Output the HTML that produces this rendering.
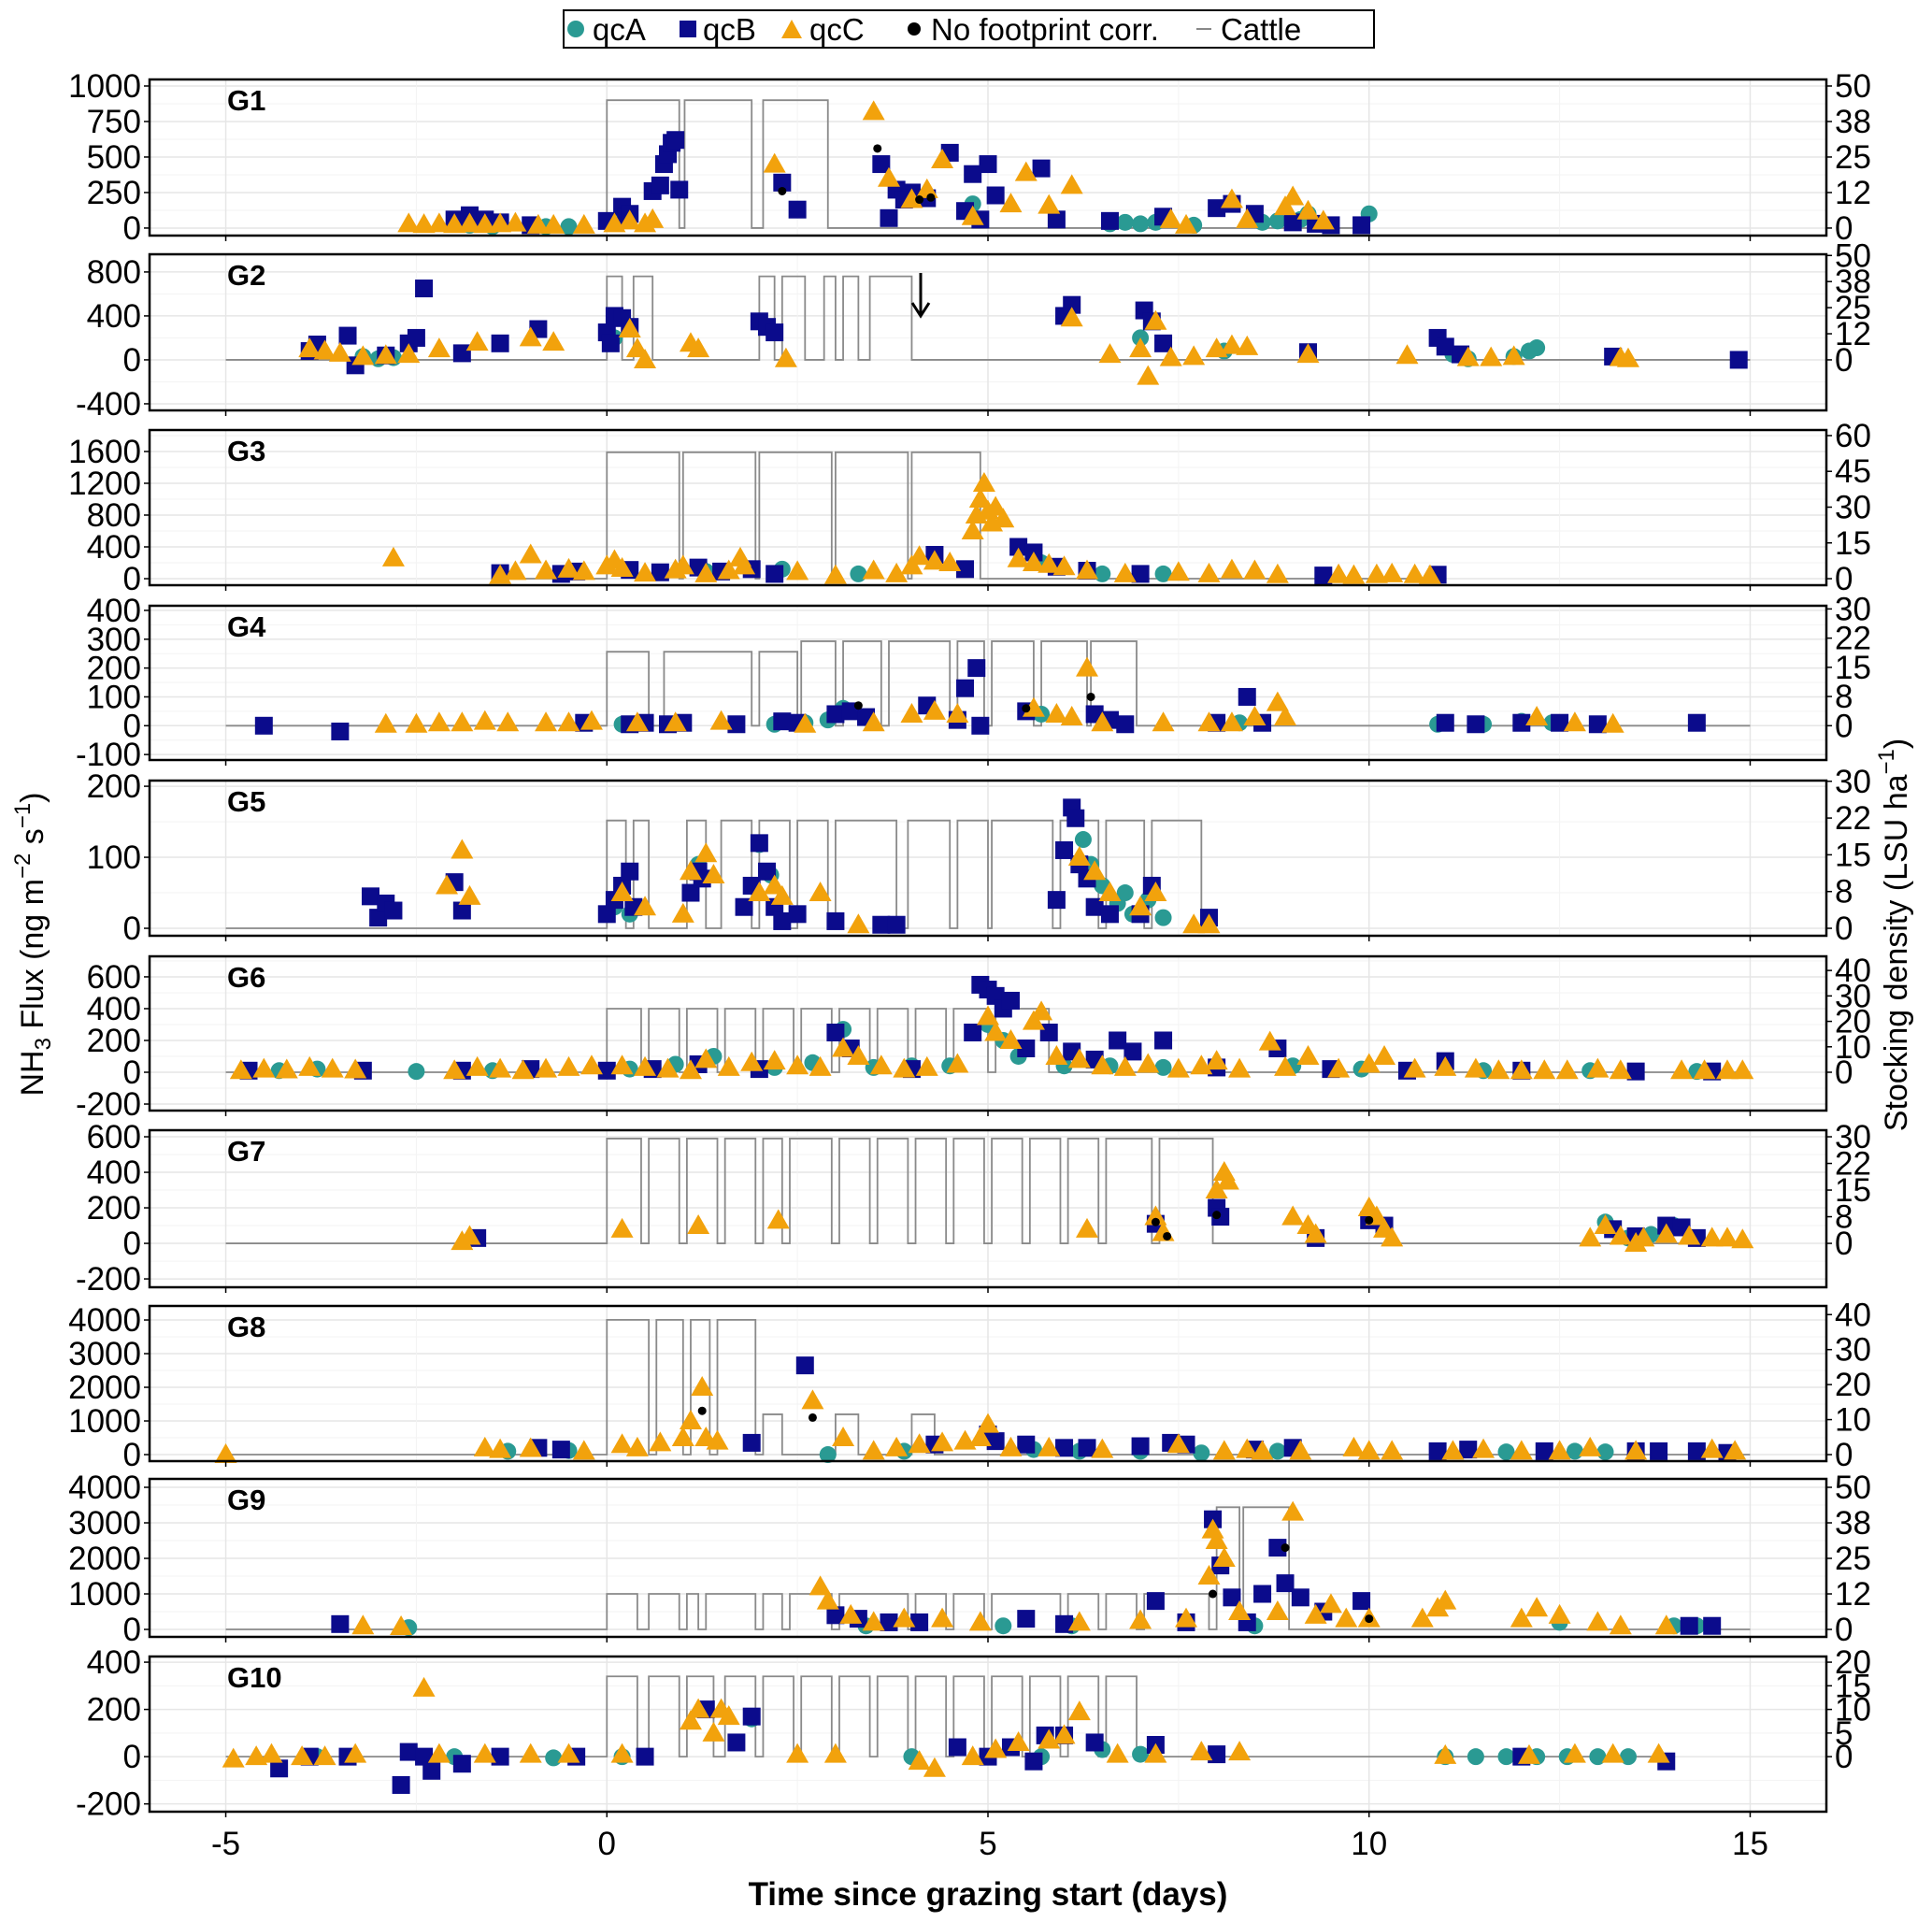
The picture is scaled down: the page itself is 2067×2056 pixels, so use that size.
<!DOCTYPE html>
<html><head><meta charset="utf-8"><style>
html,body{margin:0;padding:0;background:#fff;}
svg{display:block;font-family:"Liberation Sans",Arial,sans-serif;}
</style></head><body>
<svg id="chart" width="2067" height="2056" viewBox="0 0 2067 2056" xmlns="http://www.w3.org/2000/svg">
<rect x="0" y="0" width="2067" height="2056" fill="#fff"/>
<g id="legend">
<rect x="603" y="11" width="867" height="40" fill="#fff" stroke="#000" stroke-width="2"/>
<g><circle cx="616" cy="31" r="9" fill="#2a9a93"/><text x="634" y="43" font-size="33">qcA</text></g>
<g><rect x="727" y="22" width="18" height="18" fill="#0b0b8c"/><text x="752" y="43" font-size="33">qcB</text></g>
<g><polygon points="847,21 858,41 836,41" fill="#f2a20c"/><text x="866" y="43" font-size="33">qcC</text></g>
<g><circle cx="978" cy="31" r="7" fill="#000"/><text x="996" y="43" font-size="33">No footprint corr.</text></g>
<g><line x1="1280" y1="31" x2="1296" y2="31" stroke="#888" stroke-width="2"/><text x="1306" y="43" font-size="33">Cattle</text></g>
</g>
<g id="panels"></g>
<text x="0" y="0" transform="translate(46,1010) rotate(-90)" text-anchor="middle" font-size="34">NH<tspan font-size="24" dy="8">3</tspan><tspan dy="-8"> Flux (ng m</tspan><tspan font-size="24" dy="-14">−2</tspan><tspan dy="14"> s</tspan><tspan font-size="24" dy="-14">−1</tspan><tspan dy="14">)</tspan></text>
<text x="0" y="0" transform="translate(2040,1000) rotate(-90)" text-anchor="middle" font-size="34">Stocking density (LSU ha<tspan font-size="24" dy="-14">−1</tspan><tspan dy="14">)</tspan></text>
<text x="1057" y="2038" text-anchor="middle" font-size="35" font-weight="bold">Time since grazing start (days)</text>
<g id="arrow"><line x1="985" y1="292" x2="985" y2="336" stroke="#000" stroke-width="3"/><polyline points="976,324 985,338 994,324" fill="none" stroke="#000" stroke-width="3"/></g>
</svg>
<script>
// ---- layout/scales ----
const xDomain = [-6, 16];
const xTicks = [-5, 0, 5, 10, 15];
const panelNames = ["G1","G2","G3","G4","G5","G6","G7","G8","G9","G10"];
const panelTop = [85,272,460,648,835,1023,1209,1397,1582,1772];
const panelBottom = [252,439,626,813,1001,1188,1377,1563,1751,1938];
const yMin = [-53,-460,-82,-119,-10.5,-241,-247,-194,-210,-233];
const yMax = [1046,961,1870,416,208,729,637,4417,4237,424];
const leftTicks = [[0,250,500,750,1000],[-400,0,400,800],[0,400,800,1200,1600],[-100,0,100,200,300,400],[0,100,200],[-200,0,200,400,600],[-200,0,200,400,600],[0,1000,2000,3000,4000],[0,1000,2000,3000,4000],[-200,0,200,400]];
const rightTickVals = [[0,12.5,25,37.5,50],[0,12.5,25,37.5,50],[0,15,30,45,60],[0,7.5,15,22.5,30],[0,7.5,15,22.5,30],[0,10,20,30,40],[0,7.5,15,22.5,30],[0,10,20,30,40],[0,12.5,25,37.5,50],[0,5,10,15,20]];
const rightTickLabels = [["0","12","25","38","50"],["0","12","25","38","50"],["0","15","30","45","60"],["0","8","15","22","30"],["0","8","15","22","30"],["0","10","20","30","40"],["0","8","15","22","30"],["0","10","20","30","40"],["0","12","25","38","50"],["0","5","10","15","20"]];
const rightFactor = [20,19,30,13.5,6.9,16,20,104,80,20];
// ---- cattle stocking (start, end, level) ----
const cattleRange = [[0,10],[-5,15],[-1.5,11],[-5,15],[-5,8],[-5,15],[-5,15],[-5,15],[-5,15],[-5,14]];
const cattle1 = [[0,0.95,45],[1.02,1.9,45],[2.05,2.9,45]];
const cattle2 = [[0,0.2,40],[0.35,0.6,40],[2.0,2.2,40],[2.3,2.6,40],[2.85,3.0,40],[3.1,3.3,40],[3.45,4.0,40]];
const cattle3 = [[0,0.95,53],[1.0,1.95,53],[2.0,2.95,53],[3.0,3.95,53],[4.0,4.9,53]];
const cattle4 = [[0,0.55,19],[0.75,1.9,19],[2.0,2.5,19],[2.55,3.0,21.7],[3.1,3.6,21.7],[3.7,4.5,21.7],[4.6,4.95,21.7],[5.05,5.6,21.7],[5.7,6.3,21.7],[6.35,6.95,21.7]];
const cattle5 = [[0,0.25,22],[0.35,0.55,22],[1.05,1.3,22],[1.5,1.9,22],[2.0,2.4,22],[2.5,2.9,22],[3.0,3.8,22],[3.95,4.5,22],[4.6,5.0,22],[5.05,5.85,22],[5.95,6.45,22],[6.55,7.05,22],[7.15,7.8,22]];
const cattle6 = [[0,0.45,25],[0.55,0.95,25],[1.05,1.45,25],[1.55,1.95,25],[2.05,2.45,25],[2.55,2.95,25],[3.05,3.45,25],[3.55,3.95,25],[4.05,4.45,25],[4.55,5.0,25],[5.1,5.8,25]];
const cattle7 = [[0,0.45,29.5],[0.55,0.95,29.5],[1.05,1.45,29.5],[1.55,1.95,29.5],[2.05,2.3,29.5],[2.4,2.95,29.5],[3.05,3.45,29.5],[3.55,3.95,29.5],[4.05,4.45,29.5],[4.55,4.95,29.5],[5.05,5.45,29.5],[5.55,5.95,29.5],[6.05,6.45,29.5],[6.55,7.15,29.5],[7.25,7.95,29.5]];
const cattle8 = [[0,0.55,38.5],[0.65,1.0,38.5],[1.1,1.35,38.5],[1.45,1.95,38.5],[2.05,2.3,11.5],[3.0,3.3,11.5],[4.0,4.3,11.5]];
const cattle9 = [[0,0.4,12.5],[0.55,0.95,12.5],[1.05,1.2,12.5],[1.3,1.95,12.5],[2.05,2.3,12.5],[2.4,2.95,12.5],[3.05,3.95,12.5],[4.05,4.45,12.5],[4.55,4.95,12.5],[5.05,5.95,12.5],[6.05,6.45,12.5],[6.55,6.95,12.5],[7.05,7.9,12.5],[8.0,8.3,43],[8.35,8.95,43]];
const cattle10 = [[0,0.4,17],[0.55,0.95,17],[1.05,1.4,17],[1.55,1.95,17],[2.05,2.45,17],[2.55,2.95,17],[3.05,3.45,17],[3.55,3.95,17],[4.05,4.45,17],[4.55,4.95,17],[5.05,5.45,17],[5.55,5.95,17],[6.05,6.45,17],[6.55,6.95,17]];
// ---- flux points [day, flux] ----
const g1A=[[-1.8,20],[-1.5,10],[-0.8,10],[-0.5,10],[0.1,40],[4.8,170],[6.6,30],[6.8,40],[7.0,30],[7.2,40],[7.7,20],[8.6,40],[8.8,50],[9.1,60],[9.2,100],[10.0,100]];
const g1B=[[-2.0,60],[-1.8,90],[-1.6,60],[-1.4,40],[-1.0,20],[0.0,50],[0.2,150],[0.25,80],[0.3,100],[0.6,260],[0.7,300],[0.75,450],[0.8,520],[0.85,600],[0.9,620],[0.95,270],[2.3,320],[2.5,130],[3.6,450],[3.7,70],[3.8,270],[3.9,200],[4.0,250],[4.2,210],[4.5,530],[4.7,120],[4.8,380],[4.9,60],[5.0,450],[5.1,230],[5.7,420],[5.9,60],[6.6,50],[7.3,80],[8.0,140],[8.2,170],[8.5,100],[9.0,40],[9.3,30],[9.5,20],[9.9,20]];
const g1C=[[-2.6,30],[-2.4,25],[-2.2,30],[-2.0,25],[-1.8,30],[-1.6,25],[-1.4,30],[-1.2,35],[-0.9,20],[-0.7,20],[-0.3,20],[0.1,30],[0.3,50],[0.5,30],[0.6,60],[2.2,450],[3.5,820],[3.7,350],[4.0,200],[4.2,270],[4.4,480],[4.8,80],[5.3,170],[5.5,390],[5.8,160],[6.1,300],[7.4,60],[7.6,20],[8.2,200],[8.4,60],[8.9,150],[9.0,220],[9.2,120],[9.4,50]];
const g1N=[[2.3,260],[3.55,560],[4.1,200],[4.25,215]];
const g2A=[[-3.2,30],[-3.0,10],[-2.8,20],[0.1,200],[7.0,200],[8.1,80],[11.1,50],[11.3,10],[11.9,30],[12.1,80],[12.2,110]];
const g2B=[[-3.9,80],[-3.8,140],[-3.4,220],[-3.3,-50],[-2.9,40],[-2.6,150],[-2.5,200],[-2.4,650],[-1.9,60],[-1.4,150],[-0.9,280],[0.0,250],[0.05,150],[0.1,400],[0.2,380],[0.3,300],[2.0,350],[2.1,300],[2.2,250],[6.0,400],[6.1,500],[7.05,450],[7.15,350],[7.3,150],[9.2,70],[10.9,200],[11.0,120],[11.2,50],[13.2,30],[14.85,0]];
const g2C=[[-3.9,100],[-3.7,80],[-3.5,60],[-3.2,30],[-2.9,40],[-2.6,50],[-2.2,100],[-1.7,160],[-1.0,200],[-0.7,160],[0.3,280],[0.4,100],[0.5,0],[1.1,150],[1.2,100],[2.35,10],[6.1,380],[6.6,50],[7.0,100],[7.1,-150],[7.2,350],[7.4,20],[7.7,30],[8.0,100],[8.2,130],[8.4,120],[9.2,50],[10.5,40],[11.3,20],[11.6,20],[11.9,30],[13.3,20],[13.4,10]];
const g2N=[];
const g3A=[[1.3,90],[2.3,120],[3.3,60],[5.7,200],[6.5,60],[7.3,60]];
const g3B=[[-1.4,70],[-0.6,60],[-0.4,90],[0.3,110],[0.7,80],[1.2,140],[1.5,90],[1.9,120],[2.2,60],[4.3,300],[4.7,120],[5.4,400],[5.6,330],[5.9,150],[6.3,100],[7.0,60],[9.4,40],[10.9,50]];
const g3C=[[-2.8,260],[-1.4,40],[-1.2,90],[-1.0,300],[-0.8,100],[-0.5,120],[-0.3,90],[0.0,160],[0.1,230],[0.2,130],[0.5,70],[0.9,110],[1.0,160],[1.3,60],[1.6,100],[1.75,260],[1.8,160],[2.5,90],[3.0,40],[3.5,100],[3.8,60],[4.0,160],[4.1,280],[4.3,220],[4.5,200],[4.8,600],[4.85,800],[4.9,1000],[4.95,1200],[5.0,850],[5.05,700],[5.1,900],[5.2,750],[5.4,250],[5.6,200],[5.8,180],[6.0,150],[6.3,100],[6.8,60],[7.5,80],[7.9,60],[8.2,110],[8.5,100],[8.8,50],[9.6,50],[9.8,40],[10.1,50],[10.3,60],[10.6,50],[10.8,40]];
const g3N=[];
const g4A=[[0.2,5],[2.2,5],[2.6,10],[2.9,20],[3.1,60],[5.7,40],[8.3,10],[10.9,5],[11.5,5],[12.0,15],[12.4,10]];
const g4B=[[-4.5,0],[-3.5,-20],[-0.3,10],[0.3,5],[0.5,10],[0.8,5],[1.0,10],[1.7,5],[2.3,15],[2.5,10],[3.0,40],[3.2,50],[3.4,30],[4.2,70],[4.6,20],[4.7,130],[4.85,200],[4.9,0],[5.5,50],[6.4,40],[6.6,20],[6.8,5],[8.0,10],[8.4,100],[8.6,10],[11.0,10],[11.4,5],[12.0,10],[12.5,10],[13.0,5],[14.3,10]];
const g4C=[[-2.9,5],[-2.5,5],[-2.2,10],[-1.9,10],[-1.6,15],[-1.3,10],[-0.8,10],[-0.5,10],[-0.2,15],[0.4,10],[0.9,10],[1.5,15],[2.6,5],[3.5,10],[4.0,40],[4.3,50],[4.6,40],[5.6,60],[5.9,40],[6.1,30],[6.3,200],[6.5,10],[7.3,10],[7.9,10],[8.2,10],[8.5,30],[8.8,80],[8.9,30],[12.2,30],[12.7,10],[13.2,5]];
const g4N=[[3.3,70],[5.5,60],[6.35,100]];
const g5A=[[0.1,30],[0.3,20],[1.2,90],[2.0,118],[2.15,75],[3.7,5],[6.25,125],[6.35,90],[6.5,60],[6.7,35],[6.8,50],[6.9,20],[7.1,40],[7.3,15]];
const g5B=[[-3.1,45],[-3.0,15],[-2.9,35],[-2.8,25],[-2.0,65],[-1.9,25],[0.0,20],[0.1,40],[0.2,60],[0.3,80],[0.35,30],[1.1,50],[1.2,80],[1.25,70],[1.8,30],[1.9,60],[2.0,120],[2.1,80],[2.2,30],[2.3,10],[2.5,20],[3.0,10],[3.6,5],[3.8,5],[5.9,40],[6.0,110],[6.1,170],[6.15,155],[6.2,90],[6.3,70],[6.4,30],[6.6,20],[7.0,20],[7.15,60],[7.9,15]];
const g5C=[[-2.1,60],[-1.9,110],[-1.8,45],[0.2,50],[0.5,30],[1.0,20],[1.1,80],[1.3,105],[1.4,75],[2.0,50],[2.2,60],[2.3,45],[2.8,50],[3.3,5],[6.2,100],[6.4,80],[6.6,50],[7.0,30],[7.2,50],[7.7,5],[7.9,5]];
const g5N=[];
const g6A=[[-4.3,10],[-3.8,20],[-2.5,5],[-1.5,10],[0.3,20],[0.9,50],[1.4,100],[2.2,30],[2.7,60],[3.1,270],[3.5,30],[4.0,40],[4.5,40],[5.0,300],[5.2,200],[5.4,100],[6.0,40],[6.6,40],[7.3,30],[9.0,40],[9.9,20],[11.0,40],[11.5,10],[12.9,10],[14.3,5]];
const g6B=[[-4.7,10],[-3.2,10],[-1.9,10],[-1.0,20],[0.0,10],[0.6,20],[1.2,50],[2.0,20],[3.0,250],[3.2,150],[4.0,20],[4.8,250],[4.9,550],[5.0,520],[5.1,480],[5.2,400],[5.3,450],[5.5,150],[5.8,250],[6.1,130],[6.4,80],[6.7,200],[6.9,130],[7.3,200],[8.0,30],[8.8,150],[9.5,20],[10.5,10],[11.0,70],[12.0,10],[13.5,5],[14.5,5]];
const g6C=[[-4.8,10],[-4.5,20],[-4.2,15],[-3.9,30],[-3.6,20],[-3.3,15],[-2.0,10],[-1.7,30],[-1.4,20],[-1.1,10],[-0.8,20],[-0.5,30],[-0.2,40],[0.2,40],[0.5,30],[0.8,20],[1.1,10],[1.3,80],[1.6,30],[1.9,60],[2.2,70],[2.5,40],[2.8,30],[3.1,150],[3.3,100],[3.6,40],[3.9,20],[4.2,30],[4.6,50],[5.0,350],[5.1,250],[5.3,200],[5.6,320],[5.7,380],[5.9,100],[6.2,80],[6.5,40],[6.8,30],[7.1,50],[7.5,20],[7.8,40],[8.0,70],[8.3,20],[8.7,190],[8.9,30],[9.2,100],[9.6,20],[10.0,50],[10.2,100],[10.6,20],[11.0,30],[11.4,20],[11.7,10],[12.0,10],[12.3,10],[12.6,10],[13.0,20],[13.3,10],[14.1,10],[14.4,10],[14.7,10],[14.9,10]];
const g6N=[];
const g7A=[[13.1,120],[13.4,30],[13.7,50],[13.9,60],[14.0,100]];
const g7B=[[-1.7,30],[7.2,110],[8.0,200],[8.05,150],[9.3,30],[10.0,130],[10.2,100],[13.2,80],[13.5,40],[13.9,100],[14.1,90],[14.3,30]];
const g7C=[[-1.9,10],[-1.8,40],[0.2,80],[1.2,100],[2.25,130],[6.3,80],[7.2,150],[7.3,60],[8.0,300],[8.1,400],[8.15,350],[9.0,150],[9.2,100],[9.3,50],[10.0,200],[10.1,150],[10.2,80],[10.3,30],[12.9,30],[13.1,100],[13.3,40],[13.5,0],[13.6,30],[13.9,50],[14.2,40],[14.5,30],[14.7,30],[14.9,20]];
const g7N=[[7.2,120],[7.35,40],[8.0,160],[10.0,130]];
const g8A=[[-1.3,100],[-0.5,120],[2.9,0],[3.9,100],[5.6,150],[6.2,100],[7.0,100],[7.8,50],[8.8,100],[11.8,80],[12.7,100],[13.1,80]];
const g8B=[[-0.9,200],[-0.6,150],[1.9,350],[2.6,2650],[4.3,300],[5.0,600],[5.1,400],[5.5,300],[6.0,200],[6.3,200],[7.0,250],[7.4,350],[7.6,300],[8.5,150],[9.0,200],[10.9,100],[11.3,150],[12.3,100],[13.5,100],[13.8,100],[14.3,100],[14.7,50]];
const g8C=[[-5.0,0],[-1.6,200],[-1.4,150],[-1.0,180],[-0.3,100],[0.2,300],[0.4,200],[0.7,350],[1.0,500],[1.1,1000],[1.25,2000],[1.3,500],[1.45,400],[2.7,1600],[3.1,500],[3.5,100],[3.8,200],[4.1,300],[4.4,350],[4.7,400],[4.9,500],[5.0,900],[5.3,200],[5.8,200],[6.5,150],[7.5,300],[8.1,100],[8.4,150],[8.6,100],[9.1,100],[9.8,200],[10.0,100],[10.3,100],[11.1,100],[11.5,150],[12.0,100],[12.5,100],[12.9,200],[13.5,100],[14.5,150],[14.8,100]];
const g8N=[[1.25,1300],[2.7,1100]];
const g9A=[[-2.6,50],[3.4,100],[5.2,100],[6.1,100],[8.5,100],[12.5,200],[14.0,100],[14.3,100]];
const g9B=[[-3.5,150],[3.0,400],[3.3,300],[3.7,200],[4.1,200],[5.5,300],[6.0,150],[7.2,800],[7.6,200],[7.95,3100],[8.05,1800],[8.2,900],[8.4,200],[8.6,1000],[8.8,2300],[8.9,1300],[9.1,900],[9.4,500],[9.9,800],[14.2,100],[14.5,100]];
const g9C=[[-3.2,100],[-2.7,80],[2.8,1200],[2.9,800],[3.2,400],[3.5,200],[3.9,300],[4.4,300],[4.9,200],[6.2,200],[7.0,250],[7.6,300],[7.9,1500],[7.95,2800],[8.0,2500],[8.1,2000],[8.3,500],[8.8,500],[9.0,3300],[9.3,400],[9.5,700],[9.7,300],[10.0,300],[10.7,300],[10.9,600],[11.0,800],[12.0,300],[12.2,600],[12.5,400],[13.0,200],[13.3,100],[13.9,100]];
const g9N=[[7.95,1000],[8.9,2300],[10.0,300]];
const g10A=[[-3.8,0],[-2.0,0],[-0.7,-5],[0.2,0],[1.9,160],[4.0,0],[5.7,0],[6.5,30],[7.0,10],[11.0,0],[11.4,0],[11.8,0],[12.2,0],[12.6,0],[13.0,0],[13.4,0]];
const g10B=[[-4.3,-50],[-3.9,0],[-3.4,0],[-2.7,-120],[-2.6,20],[-2.4,0],[-2.3,-60],[-1.9,-30],[-1.4,0],[-0.4,0],[0.5,0],[1.3,200],[1.7,60],[1.9,170],[4.6,40],[5.0,0],[5.3,40],[5.6,-20],[5.75,90],[6.0,90],[6.4,60],[7.2,50],[8.0,10],[12.0,0],[13.9,-20]];
const g10C=[[-4.9,-10],[-4.6,0],[-4.4,10],[-4.0,0],[-3.7,0],[-3.3,10],[-2.4,290],[-2.2,10],[-1.6,10],[-1.0,10],[-0.5,10],[0.2,10],[1.1,150],[1.2,200],[1.4,100],[1.5,200],[1.6,170],[2.5,10],[3.0,10],[4.1,-20],[4.3,-50],[4.8,0],[5.1,30],[5.4,60],[5.8,70],[6.0,90],[6.2,190],[6.7,10],[7.2,10],[7.8,20],[8.3,20],[11.0,5],[12.1,5],[12.7,10],[13.2,10],[13.8,10]];
const g10N=[];

const cattleSets=[cattle1,cattle2,cattle3,cattle4,cattle5,cattle6,cattle7,cattle8,cattle9,cattle10];
const setsA=[g1A,g2A,g3A,g4A,g5A,g6A,g7A,g8A,g9A,g10A];
const setsB=[g1B,g2B,g3B,g4B,g5B,g6B,g7B,g8B,g9B,g10B];
const setsC=[g1C,g2C,g3C,g4C,g5C,g6C,g7C,g8C,g9C,g10C];
const setsN=[g1N,g2N,g3N,g4N,g5N,g6N,g7N,g8N,g9N,g10N];

const NS="http://www.w3.org/2000/svg";
const L=160,R=1954;
function xs(d){return L+(d-xDomain[0])/(xDomain[1]-xDomain[0])*(R-L);}
function mk(tag,attrs,parent){const e=document.createElementNS(NS,tag);for(const k in attrs)e.setAttribute(k,attrs[k]);parent.appendChild(e);return e;}
const root=document.getElementById('panels');
for(let i=0;i<10;i++){
  const t=panelTop[i],b=panelBottom[i];
  const ys=v=>b-(v-yMin[i])/(yMax[i]-yMin[i])*(b-t);
  const g=mk('g',{},root);
  
  
  // grid
  const step=leftTicks[i][1]-leftTicks[i][0];
  for(let v=leftTicks[i][0]-step;v<=yMax[i];v+=step/2){
    if(v<yMin[i])continue;
    const major=leftTicks[i].includes(v);
    mk('line',{x1:L,x2:R,y1:ys(v),y2:ys(v),stroke:major?'#e6e6e6':'#f3f3f3','stroke-width':major?1.5:1},g);
  }
  for(let d=-5;d<=15;d+=2.5){
    const major=xTicks.includes(d);
    mk('line',{x1:xs(d),x2:xs(d),y1:t,y2:b,stroke:major?'#e6e6e6':'#f3f3f3','stroke-width':major?1.5:1},g);
  }
  // cattle
  const cf=v=>ys(v*rightFactor[i]);
  const cr=cattleRange[i];
  let dpath='M'+xs(cr[0])+','+cf(0);
  for(const iv of cattleSets[i]){
    dpath+=' L'+xs(iv[0])+','+cf(0)+' L'+xs(iv[0])+','+cf(iv[2])+' L'+xs(iv[1])+','+cf(iv[2])+' L'+xs(iv[1])+','+cf(0);
  }
  dpath+=' L'+xs(cr[1])+','+cf(0);
  const cl=mk('path',{d:dpath,fill:'none',stroke:'#8a8a8a','stroke-width':1.8},g);
  
  
  // points
  for(const p of setsA[i]){
    const c=mk('circle',{cx:xs(p[0]),cy:ys(p[1]),r:9,fill:'#2a9a93'},g);
    
    
  }
  for(const p of setsB[i]){
    const s=mk('rect',{x:xs(p[0])-9.5,y:ys(p[1])-9.5,width:19,height:19,fill:'#0b0b8c'},g);
    
    
  }
  for(const p of setsC[i]){
    const x=xs(p[0]),y=ys(p[1]);
    const tr=mk('polygon',{points:(x)+','+(y-12)+' '+(x+12)+','+(y+9)+' '+(x-12)+','+(y+9),fill:'#f2a20c'},g);
    
    
  }
  for(const p of setsN[i]){
    const c=mk('circle',{cx:xs(p[0]),cy:ys(p[1]),r:4.5,fill:'#000'},g);
    
    
  }
  // frame
  mk('rect',{x:L,y:t,width:R-L,height:b-t,fill:'none',stroke:'#000','stroke-width':2.5},g);
  // left ticks
  for(const v of leftTicks[i]){
    const y=ys(v);
    mk('line',{x1:L-6,x2:L,y1:y,y2:y,stroke:'#000','stroke-width':1.5},g);
    const tx=mk('text',{x:L-9,y:y+12,'text-anchor':'end','font-size':35},g);
    tx.textContent=String(v);
    
    
  }
  // right ticks
  for(let k=0;k<rightTickVals[i].length;k++){
    const y=cf(rightTickVals[i][k]);
    mk('line',{x1:R,x2:R+6,y1:y,y2:y,stroke:'#000','stroke-width':1.5},g);
    const tx=mk('text',{x:R+9,y:y+12,'text-anchor':'start','font-size':35},g);
    tx.textContent=rightTickLabels[i][k];
    
    
  }
  // bottom tick marks
  for(const d of xTicks){mk('line',{x1:xs(d),x2:xs(d),y1:b,y2:b+6,stroke:'#000','stroke-width':1.5},g);}
  const lab=mk('text',{x:243,y:t+33,'font-size':31,'font-weight':'bold'},g);
  lab.textContent=panelNames[i];
  
  
}
const svg=document.getElementById('chart');
for(const d of xTicks){
  const tx=mk('text',{x:xs(d),y:1984,'text-anchor':'middle','font-size':35},svg);
  tx.textContent=String(d);
  
  
}
</script>
</body></html>
